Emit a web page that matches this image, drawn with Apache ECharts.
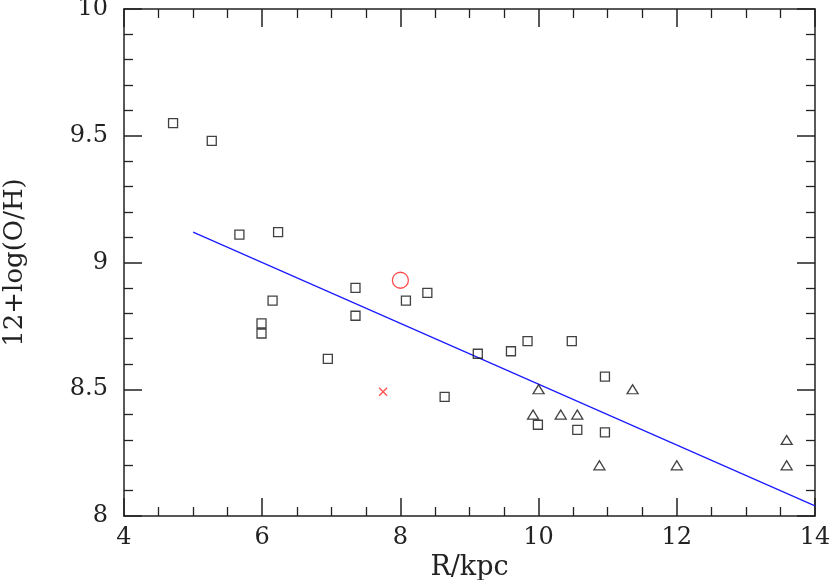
<!DOCTYPE html>
<html>
<head>
<meta charset="utf-8">
<script src="https://cdn.jsdelivr.net/npm/echarts@6/dist/echarts.min.js"></script>
<style>html,body{margin:0;padding:0;background:#fff}#c{width:830px;height:580px}</style>
</head>
<body>
<div id="c"></div>
<script>
// Data
const squareR = [4.71, 5.27, 5.67, 6.23, 6.15, 5.99, 5.99, 6.95, 7.35, 7.35, 8.08, 8.39, 8.64, 9.12, 9.60, 9.84, 10.48, 10.96, 9.99, 10.56, 10.96];
const squareOH = [9.55, 9.48, 9.11, 9.12, 8.85, 8.76, 8.72, 8.62, 8.90, 8.79, 8.85, 8.88, 8.47, 8.64, 8.65, 8.69, 8.69, 8.55, 8.36, 8.34, 8.33];
const triR = [10.0, 9.92, 10.32, 10.56, 11.36, 10.88, 12.0, 13.59, 13.59];
const triOH = [8.50, 8.40, 8.40, 8.40, 8.50, 8.20, 8.20, 8.30, 8.20];
const circleR = [8.0];
const circleOH = [8.93];
const crossR = [7.75];
const crossOH = [8.49];
const fitR = [5, 14];
const fitOH = [9.12, 8.04];
const xTicks = [4, 6, 8, 10, 12, 14];
const yTicks = [8, 8.5, 9, 9.5, 10];

const zip = (a, b) => a.map((v, i) => [v, b[i]]);
const FONT = 'DejaVu Serif';
const TXT = '#222';
const axisLineStyle = {color: '#222', width: 1.5};

const chart = echarts.init(document.getElementById('c'), null, {renderer: 'canvas'});
const xBase = {
  type: 'value', min: xTicks[0], max: xTicks[xTicks.length - 1], interval: 2,
  axisLine: {show: true, lineStyle: axisLineStyle},
  axisTick: {show: true, inside: true, length: 18, lineStyle: axisLineStyle},
  minorTick: {show: true, splitNumber: 4, length: 9, lineStyle: {color: '#222', width: 1.3}},
  splitLine: {show: false}, minorSplitLine: {show: false}
};
const yBase = {
  type: 'value', min: yTicks[0], max: yTicks[yTicks.length - 1], interval: 0.5,
  axisLine: {show: true, lineStyle: axisLineStyle},
  axisTick: {show: true, inside: true, length: 18, lineStyle: axisLineStyle},
  minorTick: {show: true, splitNumber: 5, length: 9, lineStyle: {color: '#222', width: 1.3}},
  splitLine: {show: false}, minorSplitLine: {show: false}
};
chart.setOption({
  animation: false,
  backgroundColor: '#fff',
  grid: {left: 124, top: 9, right: 15, bottom: 64, containLabel: false, outerBoundsMode: 'none'},
  xAxis: [
    Object.assign({}, xBase, {
      position: 'bottom',
      name: 'R/kpc', nameLocation: 'middle', nameGap: 33,
      nameTextStyle: {fontFamily: FONT, fontSize: 27, color: TXT},
      axisLabel: {show: true, margin: 10, fontFamily: FONT, fontSize: 24, color: TXT,
        formatter: v => String(v)}
    }),
    Object.assign({}, xBase, {position: 'top', axisLabel: {show: false}})
  ],
  yAxis: [
    Object.assign({}, yBase, {
      position: 'left',
      name: '12+log(O/H)', nameLocation: 'middle', nameGap: 96,
      nameTextStyle: {fontFamily: FONT, fontSize: 26, color: TXT},
      axisLabel: {show: true, margin: 16, fontFamily: FONT, fontSize: 24, color: TXT,
        formatter: v => String(v)}
    }),
    Object.assign({}, yBase, {position: 'right', axisLabel: {show: false}})
  ],
  series: [
    {
      type: 'line', data: zip(fitR, fitOH), showSymbol: false, symbol: 'none',
      lineStyle: {color: '#1a1aff', width: 1.2}, z: 1
    },
    {
      type: 'scatter', data: zip(squareR, squareOH), symbol: 'rect', symbolSize: 9,
      itemStyle: {color: 'rgba(0,0,0,0)', borderColor: '#111', borderWidth: 1.3}, z: 2
    },
    {
      type: 'scatter', data: zip(triR, triOH), symbol: 'triangle', symbolSize: [11, 9],
      itemStyle: {color: 'rgba(0,0,0,0)', borderColor: '#111', borderWidth: 1.3}, z: 2
    },
    {
      type: 'scatter', data: zip(circleR, circleOH), symbol: 'circle', symbolSize: 16,
      itemStyle: {color: 'rgba(0,0,0,0)', borderColor: '#ff2020', borderWidth: 1.3}, z: 2
    },
    {
      type: 'scatter', data: zip(crossR, crossOH), symbol: 'path://M0,0L10,10M10,0L0,10', symbolSize: 8,
      itemStyle: {color: 'rgba(0,0,0,0)', borderColor: '#ff2020', borderWidth: 1.3}, z: 2
    }
  ]
});
</script>
</body>
</html>
